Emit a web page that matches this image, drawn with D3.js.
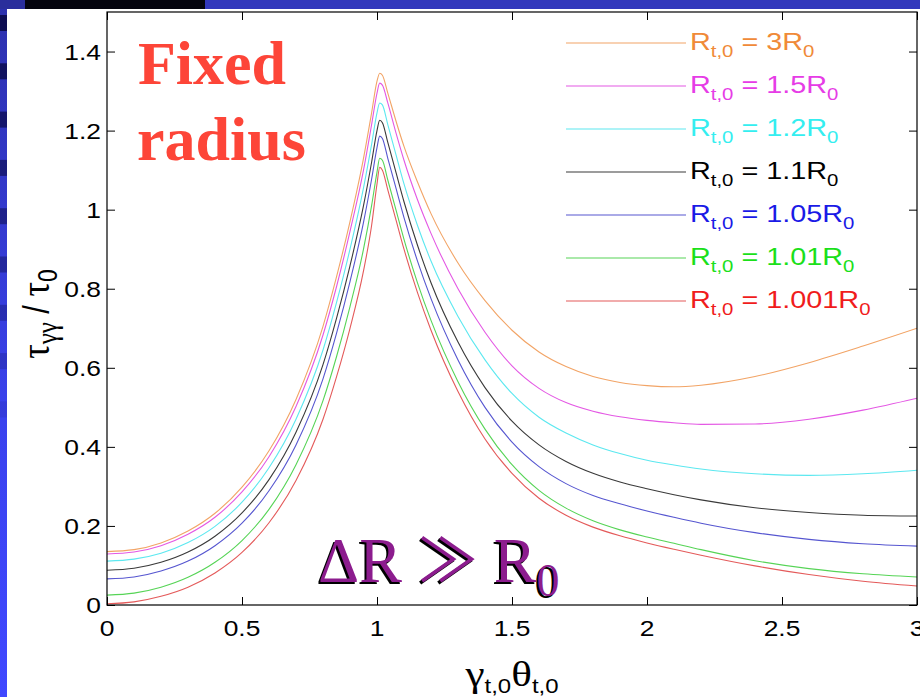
<!DOCTYPE html>
<html><head><meta charset="utf-8">
<script src="https://cdn.jsdelivr.net/npm/d3@7"></script>
<style>body{margin:0;background:#fff;overflow:hidden} svg{display:block}</style>
</head><body>
<svg id="c" width="920" height="697"></svg>
<script>
// ---- data ----
const xs    = [0,0.1,0.2,0.3,0.4,0.5,0.6,0.7,0.8,0.85,0.9,0.95,0.98,1.0,1.01,1.02,1.04,1.07,1.1,1.15,1.2,1.3,1.4,1.5,1.6,1.7,1.8,1.9,2.0,2.1,2.2,2.4,2.6,2.8,3.0];
const r3    = [0.135,0.14,0.157,0.187,0.232,0.298,0.39,0.52,0.705,0.83,0.97,1.13,1.245,1.325,1.345,1.34,1.295,1.225,1.16,1.07,0.99,0.865,0.77,0.695,0.64,0.603,0.578,0.563,0.555,0.552,0.556,0.578,0.613,0.655,0.70];
const r15   = [0.129,0.134,0.15,0.179,0.222,0.286,0.375,0.502,0.683,0.805,0.945,1.1,1.215,1.295,1.32,1.315,1.27,1.195,1.125,1.025,0.94,0.80,0.69,0.605,0.548,0.512,0.49,0.476,0.467,0.461,0.457,0.458,0.47,0.493,0.523];
const r12   = [0.111,0.116,0.131,0.158,0.199,0.26,0.347,0.47,0.645,0.765,0.9,1.055,1.165,1.245,1.27,1.265,1.215,1.14,1.065,0.96,0.87,0.73,0.62,0.535,0.475,0.435,0.405,0.383,0.366,0.354,0.344,0.332,0.328,0.332,0.341];
const r11   = [0.088,0.093,0.108,0.134,0.174,0.233,0.317,0.437,0.608,0.725,0.858,1.01,1.12,1.2,1.226,1.22,1.17,1.095,1.02,0.91,0.815,0.665,0.55,0.465,0.405,0.363,0.333,0.311,0.294,0.279,0.266,0.246,0.234,0.227,0.225];
const r105  = [0.066,0.071,0.086,0.111,0.15,0.207,0.289,0.405,0.572,0.687,0.818,0.968,1.077,1.157,1.186,1.18,1.13,1.055,0.98,0.87,0.775,0.62,0.5,0.412,0.35,0.307,0.277,0.256,0.238,0.222,0.207,0.183,0.166,0.155,0.149];
const r101  = [0.025,0.03,0.045,0.07,0.108,0.163,0.242,0.355,0.517,0.628,0.755,0.9,1.01,1.095,1.13,1.125,1.075,1.0,0.925,0.815,0.72,0.565,0.445,0.355,0.29,0.245,0.213,0.19,0.172,0.156,0.14,0.112,0.092,0.079,0.071];
const r1001 = [0.003,0.008,0.022,0.045,0.081,0.133,0.208,0.315,0.47,0.577,0.7,0.845,0.96,1.065,1.107,1.10,1.05,0.975,0.90,0.79,0.695,0.54,0.42,0.333,0.27,0.227,0.197,0.175,0.157,0.141,0.126,0.099,0.077,0.06,0.048];
const multipliers = ["3","1.5","1.2","1.1","1.05","1.01","1.001"];
const lineColors  = ["#f2a466","#e458e4","#5ce8f0","#3a3a3a","#5656d0","#56d456","#e45a5a"];
const textColors  = ["#f08a38","#e63ce6","#34eef0","#000000","#1a1ae6","#1ae01a","#f01c1c"];
const xTicks = [0,0.5,1,1.5,2,2.5,3];
const xTickLabels = ["0","0.5","1","1.5","2","2.5","3"];
const yTicks = [0,0.2,0.4,0.6,0.8,1,1.2,1.4];
const yTickLabels = ["0","0.2","0.4","0.6","0.8","1","1.2","1.4"];
const seriesValues = [r3,r15,r12,r11,r105,r101,r1001];

// ---- drawing ----
const svg = d3.select("#c");
const W = 920, H = 697;
const sx = 1.2; // horizontal stretch of the figure's text

// background decoration
svg.append("rect").attr("x",0).attr("y",0).attr("width",W).attr("height",H).attr("fill","#fff");
const defs = svg.append("defs");
const lg = defs.append("linearGradient").attr("id","lstrip").attr("x1",0).attr("y1",0).attr("x2",0).attr("y2",1);
lg.append("stop").attr("offset","0%").attr("stop-color","#2c30ac");
lg.append("stop").attr("offset","60%").attr("stop-color","#3a42ee");
lg.append("stop").attr("offset","100%").attr("stop-color","#4048ff");
svg.append("rect").attr("x",0).attr("y",0).attr("width",7).attr("height",H).attr("fill","url(#lstrip)");
for (let k = 0; k < 10; k++) {
  const yy = 15 + k*48.3;
  svg.append("rect").attr("x",0).attr("y",yy).attr("width",7).attr("height",16)
    .attr("fill","#0a0a48").attr("opacity", Math.max(0, 0.9 - k*0.1));
}
svg.append("rect").attr("x",0).attr("y",0).attr("width",W).attr("height",9).attr("fill","#3238bc");
svg.append("rect").attr("x",25).attr("y",0).attr("width",180).attr("height",9).attr("fill","#04040e");
svg.append("rect").attr("x",0).attr("y",0).attr("width",25).attr("height",9).attr("fill","#2a2e9c");

const x = d3.scaleLinear().domain([0,3]).range([107,917]);
const y = d3.scaleLinear().domain([0,1.5]).range([605,12]);

defs.append("clipPath").attr("id","plot").append("rect")
  .attr("x",107).attr("y",12).attr("width",810).attr("height",593);

// curves
const line = d3.line().x((d,i)=>x(xs[i])).y(d=>y(d)).curve(d3.curveMonotoneX);
const gLines = svg.append("g").attr("clip-path","url(#plot)");
seriesValues.forEach((vals,i)=>{
  gLines.append("path").attr("d", line(vals)).attr("fill","none")
    .attr("stroke", lineColors[i]).attr("stroke-width",1.1);
});

// axes (ticks inward on all four sides)
const axG = svg.append("g").attr("stroke-width",1);
axG.append("g").attr("transform","translate(0,605)")
  .call(d3.axisBottom(x).tickValues(xTicks).tickSize(-8).tickFormat("")).call(g=>g.select(".domain").remove());
axG.append("g").attr("transform","translate(0,12)")
  .call(d3.axisTop(x).tickValues(xTicks).tickSize(-8).tickFormat("")).call(g=>g.select(".domain").remove());
axG.append("g").attr("transform","translate(107,0)")
  .call(d3.axisLeft(y).tickValues(yTicks).tickSize(-8).tickFormat("")).call(g=>g.select(".domain").remove());
axG.append("g").attr("transform","translate(917,0)")
  .call(d3.axisRight(y).tickValues(yTicks).tickSize(-8).tickFormat("")).call(g=>g.select(".domain").remove());
svg.append("rect").attr("x",107).attr("y",12).attr("width",810).attr("height",593)
  .attr("fill","none").attr("stroke","#000").attr("stroke-width",1.2);

const sansFont = "'Liberation Sans', Arial, Helvetica, sans-serif";
const serifFont = "'Liberation Serif', 'Times New Roman', serif";

function stretched(px, py, anchor) {
  return svg.append("g").attr("transform",`translate(${px},${py}) scale(${sx},1)`)
    .append("text").attr("text-anchor",anchor);
}
// tick labels
xTicks.forEach((t,i)=>{
  stretched(x(t), 636, "middle").attr("font-family",sansFont).attr("font-size",22).attr("fill","#000").text(xTickLabels[i]);
});
yTicks.forEach((t,i)=>{
  stretched(101, y(t)+8, "end").attr("font-family",sansFont).attr("font-size",22).attr("fill","#000").text(yTickLabels[i]);
});

// legend
multipliers.forEach((m,i)=>{
  const ly = 43 + i*43;
  svg.append("line").attr("x1",566).attr("x2",686).attr("y1",ly).attr("y2",ly)
    .attr("stroke",lineColors[i]).attr("stroke-width",1.1);
  const t = stretched(690, ly+7, "start").attr("font-family",sansFont).attr("font-size",24).attr("fill",textColors[i]);
  t.append("tspan").text("R");
  t.append("tspan").attr("font-size",17).attr("dy",7).text("t,0");
  t.append("tspan").attr("dy",-7).text(" = " + m + "R");
  t.append("tspan").attr("font-size",17).attr("dy",7).text("0");
});

// x-axis label
{
  const t = stretched(512, 686, "middle").attr("fill","#000").attr("font-size",36).attr("font-family",serifFont);
  t.append("tspan").text("γ");
  t.append("tspan").attr("font-family",sansFont).attr("font-size",20).attr("dy",7).text("t,0");
  t.append("tspan").attr("dy",-7).text("θ");
  t.append("tspan").attr("font-family",sansFont).attr("font-size",20).attr("dy",7).text("t,0");
}
// y-axis label
{
  const g = svg.append("g").attr("transform","translate(49,314) rotate(-90) scale(1,1.2)");
  const t = g.append("text").attr("text-anchor","middle").attr("fill","#000").attr("font-size",36).attr("font-family",serifFont);
  t.append("tspan").text("τ");
  t.append("tspan").attr("font-size",25).attr("dy",7).text("γγ");
  t.append("tspan").attr("dy",-7).attr("font-family",sansFont).attr("font-size",31).text(" / ");
  t.append("tspan").text("τ");
  t.append("tspan").attr("font-family",sansFont).attr("font-size",23).attr("dy",7).text("0");
}

// "Fixed radius"
const fr = svg.append("text").attr("font-family",serifFont).attr("font-weight","bold")
  .attr("font-size",62).attr("fill","#fd4538");
fr.append("tspan").attr("x",138).attr("y",84).text("Fixed");
fr.append("tspan").attr("x",137).attr("y",160).text("radius");

// ΔR ≫ R0 with shadow
[["#000",-2,2],["#8c1c8e",0,0]].forEach(([c,dx,dy])=>{
  const t = svg.append("text").attr("x",318+dx).attr("y",582+dy).attr("font-family",serifFont)
    .attr("font-size",64).attr("fill",c);
  t.append("tspan").text("ΔR ");
  t.append("tspan").attr("font-family","'Noto Sans CJK JP', 'DejaVu Serif', serif").attr("font-size",60).text("≫");
  t.append("tspan").text(" R");
  t.append("tspan").attr("font-size",46).attr("dy",14).text("0");
});
</script>
</body></html>
